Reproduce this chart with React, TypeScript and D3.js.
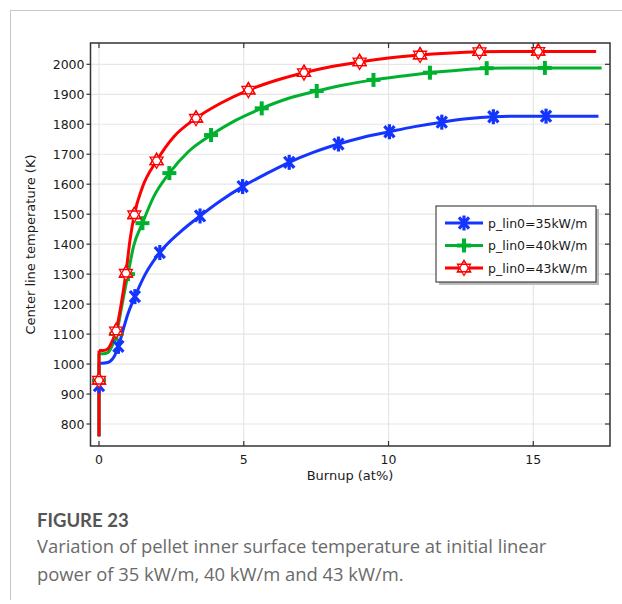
import React from "react";
import * as d3 from "d3";

// ---- data ----
const xTicks = [0, 5, 10, 15];
const yTicks = [800, 900, 1000, 1100, 1200, 1300, 1400, 1500, 1600, 1700, 1800, 1900, 2000];

const seriesNames = ["p_lin0=35kW/m", "p_lin0=40kW/m", "p_lin0=43kW/m"];
const seriesColors = ["#1434ff", "#00b12e", "#ff0000"];

const blueX = [0, 0, 0.1, 0.3, 0.45, 0.55, 0.67, 0.85, 1.0, 1.24, 1.6, 2.1, 2.8, 3.49, 4.2, 4.96, 5.8, 6.57, 7.4, 8.27, 9.1, 10.03, 10.9, 11.84, 12.7, 13.62, 14.5, 15.44, 17.25];
const blueY = [759, 1003, 1003, 1005, 1015, 1030, 1059, 1120, 1168, 1225, 1300, 1372, 1440, 1494, 1545, 1592, 1636, 1673, 1706, 1734, 1756, 1775, 1792, 1807, 1818, 1825, 1827, 1827, 1827];
const blueMarkX = [0, 0.67, 1.24, 2.1, 3.49, 4.96, 6.57, 8.27, 10.03, 11.84, 13.62, 15.44];
const blueMarkY = [928, 1059, 1225, 1372, 1494, 1592, 1673, 1734, 1775, 1807, 1825, 1827];

const greenX = [0, 0, 0.15, 0.3, 0.45, 0.6, 0.8, 1.0, 1.2, 1.5, 1.9, 2.43, 3.1, 3.87, 4.7, 5.62, 6.5, 7.52, 8.5, 9.48, 10.5, 11.43, 12.4, 13.39, 14.4, 15.4, 17.36];
const greenY = [759, 1034, 1034, 1038, 1060, 1100, 1200, 1300, 1395, 1470, 1560, 1637, 1710, 1764, 1812, 1853, 1885, 1911, 1932, 1948, 1961, 1972, 1980, 1987, 1988, 1988, 1988];
const greenMarkX = [0, 0.6, 1.0, 1.5, 2.43, 3.87, 5.62, 7.52, 9.48, 11.43, 13.39, 15.4];
const greenMarkY = [946, 1100, 1300, 1470, 1637, 1764, 1853, 1911, 1948, 1972, 1987, 1988];

const redX = [0, 0, 0.15, 0.3, 0.45, 0.59, 0.75, 0.93, 1.08, 1.22, 1.5, 1.99, 2.6, 3.35, 4.2, 5.16, 6.1, 7.08, 8.0, 9.0, 10.0, 11.09, 12.0, 13.14, 14.0, 15.17, 17.17];
const redY = [759, 1045, 1045, 1050, 1075, 1111, 1190, 1303, 1420, 1498, 1590, 1678, 1760, 1820, 1870, 1914, 1946, 1972, 1992, 2008, 2021, 2031, 2037, 2042, 2043, 2043, 2043];
const redMarkX = [0, 0.59, 0.93, 1.22, 1.99, 3.35, 5.16, 7.08, 9.0, 11.09, 13.14, 15.17];
const redMarkY = [946, 1111, 1303, 1498, 1678, 1820, 1914, 1972, 2008, 2031, 2042, 2043];

const xLabel = "Burnup (at%)";
const yLabel = "Center line temperature  (K)";
const figTitle = "FIGURE 23";
const captionLines = [
  "Variation of pellet inner surface temperature at initial linear",
  "power of 35 kW/m, 40 kW/m and 43 kW/m.",
];

// ---- layout ----
const W = 622, H = 604;
const plot = { left: 90.5, right: 610, top: 43, bottom: 446 };
const x = d3.scaleLinear().domain([0, 15]).range([99, 533.3]);
const y = d3.scaleLinear().domain([800, 2000]).range([424, 64.3]);

const seriesData = [
  { xs: blueX, ys: blueY, mx: blueMarkX, my: blueMarkY },
  { xs: greenX, ys: greenY, mx: greenMarkX, my: greenMarkY },
  { xs: redX, ys: redY, mx: redMarkX, my: redMarkY },
];

const curveLine = d3
  .line<[number, number]>()
  .x((d) => x(d[0]))
  .y((d) => y(d[1]))
  .curve(d3.curveMonotoneX);
const straight = d3
  .line<[number, number]>()
  .x((d) => x(d[0]))
  .y((d) => y(d[1]));

function Marker({ kind, cx, cy, color }: { kind: number; cx: number; cy: number; color: string }) {
  if (kind === 0) {
    const r = 7.5;
    const a = (Math.PI / 180) * 42;
    const dx = r * Math.sin(a), dy = r * Math.cos(a);
    return (
      <g stroke={color} strokeWidth={3.2} strokeLinecap="butt">
        <line x1={cx} y1={cy - r} x2={cx} y2={cy + r} />
        <line x1={cx - dx} y1={cy - dy} x2={cx + dx} y2={cy + dy} />
        <line x1={cx + dx} y1={cy - dy} x2={cx - dx} y2={cy + dy} />
      </g>
    );
  }
  if (kind === 1) {
    const r = 7;
    return (
      <g stroke={color} strokeWidth={4}>
        <line x1={cx - r} y1={cy} x2={cx + r} y2={cy} />
        <line x1={cx} y1={cy - r} x2={cx} y2={cy + r} />
      </g>
    );
  }
  const R = 7.5;
  const tri = (off: number) =>
    d3
      .range(3)
      .map((i) => {
        const ang = off + (i * 2 * Math.PI) / 3;
        return `${cx + R * Math.sin(ang)},${cy - R * Math.cos(ang)}`;
      })
      .join(" ");
  return (
    <g stroke={color} strokeWidth={1.3} fill="white" strokeLinejoin="miter">
      <polygon points={tri(0)} />
      <polygon points={tri(Math.PI)} />
      <polygon points={tri(0)} fill="none" />
    </g>
  );
}

export default function App() {
  const legend = { x: 436, y: 206, w: 160, h: 76 };
  return (
    <svg
      width={W}
      height={H}
      style={{ position: "absolute", left: 0, top: 0, background: "white" }}
      fontFamily="'DejaVu Sans', sans-serif"
    >
      {/* outer frame */}
      <line x1={10.5} y1={10} x2={10.5} y2={600} stroke="#c8c8c8" strokeWidth={1} />
      <line x1={10} y1={10.5} x2={622} y2={10.5} stroke="#c8c8c8" strokeWidth={1} />

      {/* grid */}
      {yTicks.map((t) => (
        <line key={"gy" + t} x1={plot.left} x2={plot.right} y1={y(t)} y2={y(t)} stroke="#e6e6e6" strokeWidth={1.2} />
      ))}
      {xTicks.map((t) => (
        <line key={"gx" + t} x1={x(t)} x2={x(t)} y1={plot.top} y2={plot.bottom} stroke="#e6e6e6" strokeWidth={1.2} />
      ))}

      {/* curves */}
      {seriesData.map((s, i) => {
        const pts: [number, number][] = s.xs.map((v, j) => [v, s.ys[j]]);
        return (
          <g key={"c" + i} fill="none" stroke={seriesColors[i]} strokeWidth={3}>
            <path d={straight(pts.slice(0, 2)) || ""} />
            <path d={curveLine(pts.slice(1)) || ""} strokeLinejoin="round" />
          </g>
        );
      })}
      {/* markers */}
      {seriesData.map((s, i) => (
        <g key={"m" + i}>
          {s.mx.map((v, j) => (
            <Marker key={j} kind={i} cx={x(v)} cy={y(s.my[j])} color={seriesColors[i]} />
          ))}
        </g>
      ))}

      {/* axes frame */}
      <rect
        x={plot.left}
        y={plot.top}
        width={plot.right - plot.left}
        height={plot.bottom - plot.top}
        fill="none"
        stroke="#333"
        strokeWidth={1.5}
      />
      {yTicks.map((t) => (
        <g key={"ty" + t}>
          <line x1={plot.left - 4} x2={plot.left} y1={y(t)} y2={y(t)} stroke="#333" strokeWidth={1.2} />
          <line x1={plot.right - 5} x2={plot.right} y1={y(t)} y2={y(t)} stroke="#333" strokeWidth={1.2} />
          <text x={plot.left - 6} y={y(t)} dy="0.36em" textAnchor="end" fontSize={12.5} fill="#1a1a1a">
            {t}
          </text>
        </g>
      ))}
      {xTicks.map((t) => (
        <g key={"tx" + t}>
          <line x1={x(t)} x2={x(t)} y1={plot.bottom - 5} y2={plot.bottom} stroke="#333" strokeWidth={1.2} />
          <line x1={x(t)} x2={x(t)} y1={plot.top} y2={plot.top + 5} stroke="#333" strokeWidth={1.2} />
          <text x={x(t)} y={plot.bottom + 18} textAnchor="middle" fontSize={12.5} fill="#1a1a1a">
            {t}
          </text>
        </g>
      ))}

      {/* axis labels */}
      <text x={350} y={480} textAnchor="middle" fontSize={13} fill="#1a1a1a">
        {xLabel}
      </text>
      <text
        transform={`translate(35,${(plot.top + plot.bottom) / 2}) rotate(-90)`}
        textAnchor="middle"
        fontSize={13}
        fill="#1a1a1a"
      >
        {yLabel}
      </text>

      {/* legend */}
      <rect x={legend.x + 3} y={legend.y + 3} width={legend.w} height={legend.h} fill="#bbb" />
      <rect x={legend.x} y={legend.y} width={legend.w} height={legend.h} fill="white" stroke="#222" strokeWidth={1} />
      {seriesNames.map((n, i) => {
        const ly = legend.y + 17 + i * 22.5;
        return (
          <g key={"l" + i}>
            <line x1={legend.x + 9} x2={legend.x + 47} y1={ly} y2={ly} stroke={seriesColors[i]} strokeWidth={3} />
            <Marker kind={i} cx={legend.x + 28} cy={ly} color={seriesColors[i]} />
            <text x={legend.x + 52} y={ly} dy="0.36em" fontSize={12.5} fill="#1a1a1a">
              {n}
            </text>
          </g>
        );
      })}

      {/* caption */}
      <text x={37} y={527} fontFamily="Lato, 'Open Sans', sans-serif" fontWeight={700} fontSize={18.5} fill="#555">
        {figTitle}
      </text>
      {captionLines.map((c, i) => (
        <text key={"cap" + i} x={37} y={553 + i * 28} fontFamily="'Open Sans', sans-serif" fontSize={18.4} fill="#6a6a6a">
          {c}
        </text>
      ))}
    </svg>
  );
}
